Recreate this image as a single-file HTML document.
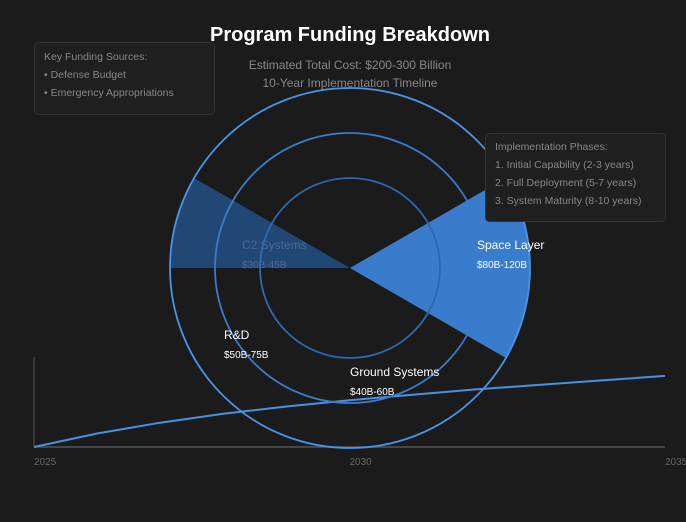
<!DOCTYPE html>
<html><head><meta charset="utf-8"><style>
body{margin:0;background:#1b1b1b;width:686px;height:522px;overflow:hidden;font-family:"Liberation Sans",sans-serif}
svg{display:block}
</style></head><body>
<svg width="686" height="522">
<rect width="686" height="522" fill="#1b1b1b"/>
<g id="line"></g>
<g id="polar"></g>
<text x="350" y="41" text-anchor="middle" fill="#fff" font-size="20" font-weight="bold">Program Funding Breakdown</text>
<text x="350" y="69" text-anchor="middle" fill="#888" font-size="12">Estimated Total Cost: $200-300 Billion</text>
<text x="350" y="87" text-anchor="middle" fill="#888" font-size="12">10-Year Implementation Timeline</text>
<g>
<rect x="34.5" y="42.5" width="180" height="72" rx="4" fill="#1f1f1f" stroke="#333"/>
<text x="44" y="60" fill="#888" font-size="10.5">Key Funding Sources:</text>
<text x="44" y="78" fill="#888" font-size="10.5">• Defense Budget</text>
<text x="44" y="96" fill="#888" font-size="10.5">• Emergency Appropriations</text>
</g>
<g id="labels"></g>
<g>
<rect x="485.5" y="133.5" width="180" height="88" rx="4" fill="#1f1f1f" stroke="#333"/>
<text x="495" y="150" fill="#888" font-size="10.5">Implementation Phases:</text>
<text x="495" y="168" fill="#888" font-size="10.5">1. Initial Capability (2-3 years)</text>
<text x="495" y="186" fill="#888" font-size="10.5">2. Full Deployment (5-7 years)</text>
<text x="495" y="204" fill="#888" font-size="10.5">3. System Maturity (8-10 years)</text>
</g>
</svg>
<script>
const NS="http://www.w3.org/2000/svg";
function mk(t,a,p){const e=document.createElementNS(NS,t);for(const k in a)e.setAttribute(k,a[k]);p.appendChild(e);return e;}
// timeline data
const years=[2025,2026,2027,2028,2029,2030,2031,2032,2033,2034,2035];
const cumulative=[0,15,27,37,45,52,58,64,69,74,79];
const tickYears=[2025,2030,2035];
const X0=34,X1=665,YB=447,YT=357;
const xs=y=>X0+(y-2025)/10*(X1-X0);
const ys=v=>YB-v/100*(YB-YT);
const L=document.getElementById('line');
let a=mk('line',{x1:X0,y1:YT,x2:X0,y2:YB,stroke:'#555'},L);


a=mk('line',{x1:X0,y1:YB,x2:X1,y2:YB,stroke:'#555','stroke-width':1.5},L);


tickYears.forEach(t=>{const e=mk('text',{x:xs(t),y:465,fill:'#666','font-size':10},L);e.textContent=t;

});
let d='';years.forEach((y,i)=>{d+=(i?'L':'M')+xs(y)+','+ys(cumulative[i]);});
const ln=mk('path',{d:d,fill:'none',stroke:'#4a90e2','stroke-width':2},L);


// polar data
const segments=['Space Layer','C2 Systems'];
const startAngles=[-30,180];
const endAngles=[30,210];
const values=[100,100];
const segColors=['#3b82d6','#224a7a'];
const CX=350,CY=268,R=180;
const P=document.getElementById('polar');
const rad=d=>d*Math.PI/180;
segments.forEach((s,i)=>{const r=values[i]/100*R;
const a0=rad(startAngles[i]),a1=rad(endAngles[i]);
const p=`M${CX},${CY}L${CX+r*Math.cos(a0)},${CY+r*Math.sin(a0)}A${r},${r} 0 0 1 ${CX+r*Math.cos(a1)},${CY+r*Math.sin(a1)}Z`;
const e=mk('path',{d:p,fill:segColors[i],opacity:0.95},P);

});
[[90,'#2e68b0'],[135,'#3a7ccb'],[180,'#4a94e8']].forEach(([r,c])=>{const e=mk('circle',{cx:CX,cy:CY,r:r,fill:'none',stroke:c,'stroke-width':1.8},P);

});
// labels
const labNames=['C2 Systems','Space Layer','R&D','Ground Systems'];
const labVals=['$30B-45B','$80B-120B','$50B-75B','$40B-60B'];
const labPos=[[242,249,'#4a6a92'],[477,249,'#fff'],[224,339,'#fff'],[350,376,'#fff']];
const G=document.getElementById('labels');
labNames.forEach((n,i)=>{const [x,y,c]=labPos[i];
const t=mk('text',{x:x,y:y,fill:c,'font-size':12},G);t.textContent=n;


const v=mk('text',{x:x,y:y+19,fill:c,'font-size':10},G);v.textContent=labVals[i];

});
</script>
</body></html>
